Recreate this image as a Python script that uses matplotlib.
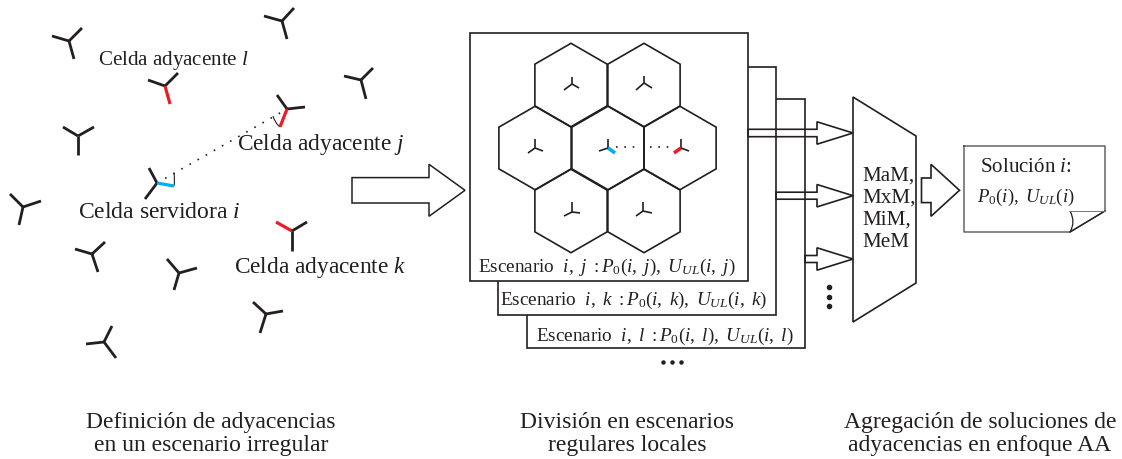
import numpy as np
import matplotlib
matplotlib.use('Agg')
import matplotlib.pyplot as plt
from matplotlib.patches import Polygon, Rectangle, PathPatch
from matplotlib.path import Path

plt.rcParams['font.family'] = ['Liberation Serif', 'DejaVu Serif']
plt.rcParams['mathtext.fontset'] = 'custom'
plt.rcParams['mathtext.rm'] = 'Liberation Serif'
plt.rcParams['mathtext.it'] = 'Liberation Serif:italic'
plt.rcParams['mathtext.bf'] = 'Liberation Serif:bold'

INK = '#231f20'
RED = '#ed1c24'
BLUE = '#00aeef'

# irregular sites: centre, then three arm ends, all in pixels
sites = [
    ((69, 41), (52, 36), (82, 28), (74, 59)),
    ((282, 21), (264, 16), (294, 8), (287, 39)),
    ((361, 80), (344, 76), (373, 68), (366, 99)),
    ((165, 86), (148, 80), (178, 73), (170, 104)),
    ((287, 109), (277, 95), (305, 107), (280, 127)),
    ((78, 136), (63, 127), (94, 127), (78, 155)),
    ((157, 183), (149, 168), (145, 199), (174, 186)),
    ((23, 207), (10, 194), (41, 201), (19, 225)),
    ((92, 254), (75, 249), (105, 242), (98, 272)),
    ((179, 273), (167, 259), (197, 268), (174, 290)),
    ((292, 231), (276, 222), (307, 222), (292, 251)),
    ((266, 314), (253, 302), (283, 311), (260, 333)),
    ((104, 342), (86, 344), (112, 326), (116, 358)),
]
# which arm is coloured: site index -> (arm index, colour)
site_colours = {3: (2, RED), 4: (2, RED), 6: (2, BLUE), 10: (0, RED)}

# regular grid sites inside the hexagons
hex_centres = [(571, 85), (644, 85), (535, 148), (608, 148), (680, 148), (571, 211), (644, 211)]
hex_radius = 41.7
grid_sites = [
    ((572, 84), (572, 77), (564, 90), (579, 88)),
    ((644, 83), (644, 76), (636, 90), (652, 88)),
    ((535, 148), (535, 139), (528, 153), (543, 151)),
    ((608, 148), (608, 139), (599, 151), (615, 153)),
    ((681, 148), (681, 139), (689, 151), (674, 153)),
    ((572, 212), (572, 202), (564, 216), (580, 213)),
    ((643, 211), (643, 202), (636, 216), (652, 213)),
]
grid_colours = {3: (2, BLUE), 4: (2, RED)}

# back to front: x0, y0, x1, y1
scenario_boxes = [(527, 99, 805, 348), (498, 67, 776, 315), (470, 33, 748, 281)]

labels_left = ['Celda adyacente $l$', 'Celda adyacente $j$', 'Celda servidora $i$', 'Celda adyacente $k$']
scenario_labels = [
    r'Escenario  $i,\ j\ :P_{\mathit{0}}(i,\ j),\ U_{UL}(i,\ j)$',
    r'Escenario  $i,\ k\ :P_{\mathit{0}}(i,\ k),\ U_{UL}(i,\ k)$',
    r'Escenario  $i,\ l\ :P_{\mathit{0}}(i,\ l),\ U_{UL}(i,\ l)$',
]
captions = [
    'Definición de adyacencias\nen un escenario irregular',
    'División en escenarios\nregulares locales',
    'Agregación de soluciones de\nadyacencias en enfoque AA',
]
methods = 'MaM,\nMxM,\nMiM,\nMeM'


def draw_site(ax, site, coloured, lw, colour_lw):
    centre = site[0]
    for n, end in enumerate(site[1:]):
        colour = INK
        width = lw
        if coloured and coloured[0] == n:
            colour = coloured[1]
            width = colour_lw
        ax.plot([centre[0], end[0]], [centre[1], end[1]], color=colour, lw=width,
                solid_capstyle='butt', zorder=6)


def block_arrow(ax, x0, x1, xhead, yc, half, headhalf, lw=1.2, fill='none', zorder=5):
    pts = [(x0, yc - half), (xhead, yc - half), (xhead, yc - headhalf), (x1, yc),
           (xhead, yc + headhalf), (xhead, yc + half), (x0, yc + half)]
    ax.add_patch(Polygon(pts, closed=True, fc=fill, ec=INK, lw=lw, zorder=zorder, joinstyle='miter'))


fig = plt.figure(figsize=(11.22, 4.59), dpi=100)
ax = fig.add_axes([0, 0, 1, 1])
ax.set_xlim(0, 1122)
ax.set_ylim(459, 0)
ax.axis('off')

# left panel
for n, site in enumerate(sites):
    draw_site(ax, site, site_colours.get(n), 2.0, 2.3)
ax.plot([157, 287], [183, 109], color=INK, lw=1.2, ls=(0, (1, 4.6)), zorder=3)
ax.add_patch(PathPatch(Path([(174, 173), (175, 180), (174, 186)], [1, 3, 3]), fc='none', ec=INK, lw=0.8))
ax.add_patch(PathPatch(Path([(273, 116), (275, 123), (280, 127)], [1, 3, 3]), fc='none', ec=INK, lw=0.8))

ax.text(98, 65, labels_left[0], fontsize=15.1, color=INK, va='baseline')
ax.text(237, 150, labels_left[1], fontsize=16.8, color=INK, va='baseline')
ax.text(78, 217.5, labels_left[2], fontsize=17, color=INK, va='baseline')
ax.text(234, 273, labels_left[3], fontsize=16.8, color=INK, va='baseline')

block_arrow(ax, 352, 465, 429, 190.3, 12.7, 26, lw=1.1, fill='white')

# scenario stack
for x0, y0, x1, y1 in scenario_boxes:
    ax.add_patch(Rectangle((x0, y0), x1 - x0, y1 - y0, fc='white', ec=INK, lw=1.2, zorder=2))

for cx, cy in hex_centres:
    angles = np.radians(np.arange(30, 390, 60))
    ax.add_patch(Polygon(np.column_stack([cx + hex_radius * np.cos(angles), cy + hex_radius * np.sin(angles)]),
                         closed=True, fc='none', ec=INK, lw=1.2, zorder=3))
for n, site in enumerate(grid_sites):
    draw_site(ax, site, grid_colours.get(n), 1.2, 2.6)
ax.plot([616, 640], [147, 147], color=INK, lw=1.2, ls=(0, (1, 4)), zorder=4)
ax.plot([650, 674], [147, 147], color=INK, lw=1.2, ls=(0, (1, 4)), zorder=4)

ax.text(478, 271.5, scenario_labels[0], fontsize=13.8, color=INK, va='baseline', zorder=7)
ax.text(500, 305, scenario_labels[1], fontsize=13.8, color=INK, va='baseline', zorder=7)
ax.text(536, 340.5, scenario_labels[2], fontsize=13.8, color=INK, va='baseline', zorder=7)

ax.plot([663, 672, 681], [362, 362, 362], 'o', color=INK, ms=2.2, zorder=7)
ax.plot([829, 829, 829], [287, 297, 306], 'o', color=INK, ms=3, zorder=7)

# aggregation block
ax.add_patch(Polygon([(853, 97), (916, 136), (916, 283), (853, 322)], closed=True,
                     fc='white', ec=INK, lw=1.2, zorder=4))
block_arrow(ax, 748, 853, 817, 133, 3.7, 11.2)
block_arrow(ax, 776, 853, 817, 195.7, 3.5, 11.2)
block_arrow(ax, 805, 853, 817, 259, 3.5, 11.2)
ax.text(862, 209, methods, fontsize=15.2, color=INK, va='center', ha='left', linespacing=1.22, zorder=7)
block_arrow(ax, 921.5, 959.5, 931, 190.3, 12.3, 26, lw=1.2, fill='white')

# solution note
ax.plot([964, 964, 1070, 1105, 1105, 964], [146, 232, 232, 211, 146, 146], color='#555555', lw=1.0)
ax.plot([1070, 1105], [232, 211], color=INK, lw=1.0)
ax.plot([1070, 1105], [211, 211], color='#777777', lw=0.7)
ax.add_patch(PathPatch(Path([(1070, 211), (1076, 222), (1070, 232)], [1, 3, 3]), fc='none', ec=INK, lw=0.9))
ax.text(980, 172, 'Solución $i$:', fontsize=15.1, color=INK, va='baseline')
ax.text(977, 202, r'$P_{\mathit{0}}(i),\ U_{UL}(i)$', fontsize=13.5, color=INK, va='baseline')

# captions
ax.text(211, 434, captions[0], fontsize=17, color=INK, ha='center', va='center', linespacing=1.13)
ax.text(627, 434, captions[1], fontsize=17, color=INK, ha='center', va='center', linespacing=1.13)
ax.text(980, 434, captions[2], fontsize=17, color=INK, ha='center', va='center', linespacing=1.13)

fig.savefig('out.png', dpi=100)
